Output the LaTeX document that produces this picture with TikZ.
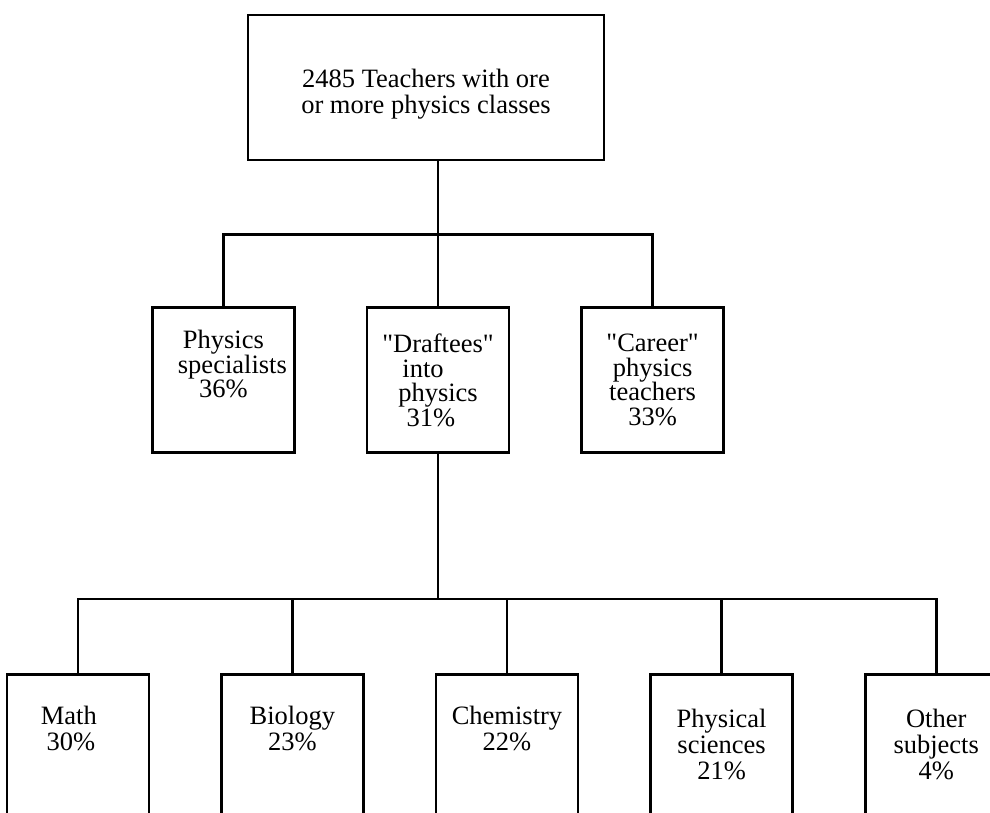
\documentclass[tikz,border=0pt]{standalone}
\usepackage{fontspec}
\setmainfont{Liberation Serif}
\usetikzlibrary{positioning}

\tikzset{
  box/.style={draw, line width=2.6pt, minimum width=142pt, inner sep=0pt,
    align=center, font=\fontsize{26.5}{26}\selectfont},
  group/.style={box, minimum height=145pt, font=\fontsize{26.5}{24.5}\selectfont},
  subject/.style={box, minimum height=141pt},
  link/.style={line width=2.6pt}
}

\begin{document}
\begin{tikzpicture}[x=1pt, y=1pt, node distance=70pt]

  \useasboundingbox (0,0) rectangle (990,-812);

  % Define nodes
  \node[box, minimum width=356pt, minimum height=145pt] (total) at (426,-87.5)
    {\rule{0pt}{32pt}2485 Teachers with ore\\or more physics classes};
  \node[group, below=145pt of total, xshift=12pt] (draftees)
    {\textquotedbl Draftees\textquotedbl\\into\rule{30pt}{0pt}\\physics\\31\%\rule{14pt}{0pt}};
  \node[group, left=of draftees] (special)
    {Physics\\\rule{18pt}{0pt}specialists\\36\%\\\strut};
  \node[group, right=of draftees] (career)
    {\textquotedbl Career\textquotedbl\\physics\\teachers\\33\%};

  \node[subject, below=219pt of draftees, xshift=69pt] (chem) {Chemistry\\22\%\\\strut};
  \node[subject, left=of chem] (bio) {Biology\\23\%\\\strut};
  \node[subject, left=of bio] (math) {Math\rule{18pt}{0pt}\\30\%\rule{14pt}{0pt}\\\strut};
  \node[subject, right=of chem] (phys) {Physical\\sciences\\21\%};
  \node[subject, right=of phys] (other) {Other\\subjects\\4\%};

  \coordinate (branch) at ([yshift=72pt]draftees.north);
  \coordinate (fork) at ([yshift=74pt]chem.north);

  % Connect nodes
  \draw[link] (total.south -| branch) -- (draftees.north);
  \draw[link] (special.north) |- (branch) -| (career.north);

  \draw[link] (draftees.south) -- (draftees.south |- fork);
  \draw[link] (math.north) |- (fork) -| (other.north);
  \foreach \n in {bio,chem,phys}
    \draw[link] (\n.north) -- (\n.north |- fork);

\end{tikzpicture}
\end{document}
